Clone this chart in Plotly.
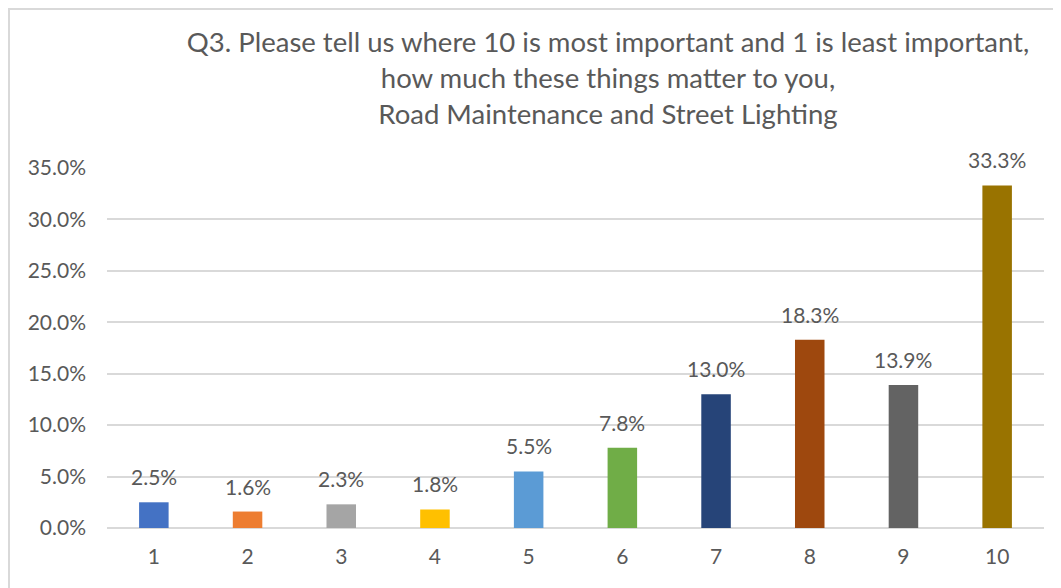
import plotly.graph_objects as go

categories = ["1", "2", "3", "4", "5", "6", "7", "8", "9", "10"]
values = [0.025, 0.016, 0.023, 0.018, 0.055, 0.078, 0.130, 0.183, 0.139, 0.333]
colors = ["#4472C4", "#ED7D31", "#A5A5A5", "#FFC000", "#5B9BD5",
          "#70AD47", "#264478", "#9E480E", "#636363", "#997300"]
y_ticks = [0, 0.05, 0.10, 0.15, 0.20, 0.25, 0.30, 0.35]
title_text = ("Q3. Please tell us where 10 is most important and 1 is least important,<br>"
              "how much these things matter to you,<br>"
              "Road Maintenance and Street Lighting")

FONT = "Lato"
TXT = "#595959"
GRID = "#D9D9D9"

# page body adds an 8px offset; compensate in margins
OFF = 8
W, H = 1061, 588
ml = 107 - OFF
mt = 168 - OFF
pw = 937
ph = 360
mr = W - ml - pw
mb = H - mt - ph

fig = go.Figure(go.Bar(
    x=categories, y=values,
    marker=dict(color=colors, line=dict(width=0)),
    width=0.315,
    hoverinfo="x+y",
))

annotations = [
    dict(x=i, y=v, text=f"{v:.1%}", showarrow=False, xref="x", yref="y",
         yanchor="bottom", xanchor="center", yshift=11,
         font=dict(family=FONT, size=21, color=TXT))
    for i, v in enumerate(values)
]

fig.update_layout(
    width=W, height=H,
    margin=dict(l=ml, r=mr, t=mt, b=mb, autoexpand=False),
    paper_bgcolor="white", plot_bgcolor="white",
    showlegend=False,
    title=dict(text=title_text, x=(608 - OFF - ml) / pw, xref="paper", xanchor="center",
               y=1 - 44 / H, yref="container", yanchor="top",
               font=dict(family=FONT, size=27.5, color=TXT)),
    xaxis=dict(type="category", showgrid=False, showline=False, ticks="", zeroline=False,
               tickfont=dict(family=FONT, size=21, color=TXT),
               ticklabelstandoff=14),
    yaxis=dict(range=[0, 0.35], tickvals=y_ticks, tickformat=".1%",
               showgrid=True, gridcolor=GRID, gridwidth=1.5,
               zeroline=True, zerolinecolor=GRID, zerolinewidth=1.5,
               showline=False, ticks="",
               tickfont=dict(family=FONT, size=21, color=TXT),
               ticklabelstandoff=20),
    annotations=annotations,
    shapes=[dict(type="rect", xref="paper", yref="paper",
                 x0=(1 - ml) / pw, x1=(W + 20 - ml) / pw,
                 y0=-(H + 20 - mt - ph) / ph, y1=(mt + ph - 1) / ph,
                 line=dict(color=GRID, width=2), fillcolor="rgba(0,0,0,0)",
                 layer="below")],
)

fig.write_html("out.html")
